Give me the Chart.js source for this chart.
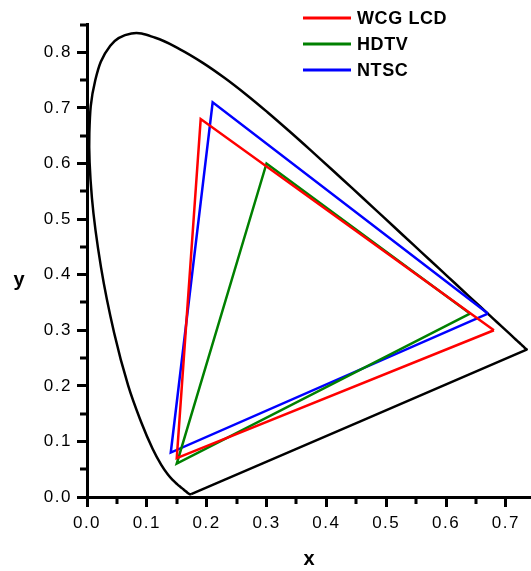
<!DOCTYPE html>
<html>
<head>
<meta charset="utf-8">
<script src="https://cdn.jsdelivr.net/npm/chart.js@4/dist/chart.umd.min.js"></script>
<style>
  html, body { margin: 0; padding: 0; background: #fff; }
</style>
</head>
<body>
<canvas id="myChart" width="531" height="571"></canvas>
<script>
// CIE 1931 spectral locus (380-700 nm), closed by the purple line
const locusX = [
    0.1741, 0.1740, 0.1738, 0.1736, 0.1733, 0.1730, 0.1726, 0.1721, 0.1714, 0.1703,
    0.1689, 0.1669, 0.1644, 0.1611, 0.1566, 0.1510, 0.1440, 0.1355, 0.1241, 0.1096,
    0.0913, 0.0687, 0.0454, 0.0235, 0.0082, 0.0039, 0.0139, 0.0389, 0.0743, 0.1142,
    0.1547, 0.1929, 0.2296, 0.2658, 0.3016, 0.3373, 0.3731, 0.4087, 0.4441, 0.4788,
    0.5125, 0.5448, 0.5752, 0.6029, 0.6270, 0.6482, 0.6658, 0.6801, 0.6915, 0.7006,
    0.7079, 0.7140, 0.7190, 0.7230, 0.7260, 0.7283, 0.7300, 0.7311, 0.7320, 0.7334,
    0.7347, 0.1741
];
const locusY = [
    0.0050, 0.0050, 0.0049, 0.0049, 0.0048, 0.0048, 0.0048, 0.0048, 0.0051, 0.0058,
    0.0069, 0.0086, 0.0109, 0.0138, 0.0177, 0.0227, 0.0297, 0.0399, 0.0578, 0.0868,
    0.1327, 0.2007, 0.2950, 0.4127, 0.5384, 0.6548, 0.7502, 0.8120, 0.8338, 0.8262,
    0.8059, 0.7816, 0.7543, 0.7243, 0.6923, 0.6589, 0.6245, 0.5896, 0.5547, 0.5202,
    0.4866, 0.4544, 0.4242, 0.3965, 0.3725, 0.3514, 0.3340, 0.3197, 0.3083, 0.2993,
    0.2920, 0.2859, 0.2809, 0.2770, 0.2740, 0.2717, 0.2700, 0.2689, 0.2680, 0.2666,
    0.2653, 0.0050
];

// gamut triangles: red, green, blue primaries
const gamutNames = ['WCG LCD', 'HDTV', 'NTSC'];
const gamutX = [
    [0.68, 0.19, 0.15],
    [0.64, 0.30, 0.15],
    [0.67, 0.21, 0.14]
];
const gamutY = [
    [0.30, 0.68, 0.07],
    [0.33, 0.60, 0.06],
    [0.33, 0.71, 0.08]
];
const gamutColors = ['#ff0000', '#008000', '#0000ff'];

const xTicks = [0.0, 0.1, 0.2, 0.3, 0.4, 0.5, 0.6, 0.7];
const yTicks = [0.0, 0.1, 0.2, 0.3, 0.4, 0.5, 0.6, 0.7, 0.8];

const toPoints = (xs, ys) => xs.map((x, i) => ({ x: x, y: ys[i] }));

const datasets = gamutNames.map((name, i) => ({
    label: name,
    data: toPoints(gamutX[i].concat(gamutX[i][0]), gamutY[i].concat(gamutY[i][0])),
    borderColor: gamutColors[i],
    borderWidth: 2.5,
    showLine: true,
    pointRadius: 0,
    tension: 0
}));
datasets.push({
    label: 'locus',
    data: toPoints(locusX, locusY),
    borderColor: '#000',
    borderWidth: 2.5,
    showLine: true,
    pointRadius: 0,
    tension: 0.4
});

// short ticks between the labelled ones
const minorTicks = {
    id: 'minorTicks',
    afterDraw(chart) {
        const ctx = chart.ctx;
        const xs = chart.scales.x, ys = chart.scales.y;
        const area = chart.chartArea;
        ctx.save();
        ctx.strokeStyle = '#000';
        ctx.lineWidth = 3;
        ctx.beginPath();
        for (let v = 0.05; v < xs.max + 0.001; v += 0.1) {
            const px = Math.round(xs.getPixelForValue(v));
            ctx.moveTo(px, area.bottom);
            ctx.lineTo(px, area.bottom + 7);
        }
        for (let v = 0.05; v < ys.max + 0.001; v += 0.1) {
            const py = Math.round(ys.getPixelForValue(v));
            ctx.moveTo(area.left, py);
            ctx.lineTo(area.left - 7, py);
        }
        ctx.stroke();
        ctx.restore();
    }
};

// axis titles and legend in the top right corner
const decorations = {
    id: 'decorations',
    beforeDraw(chart) {
        chart.ctx.letterSpacing = '1.5px';
    },
    afterDraw(chart) {
        const ctx = chart.ctx;
        const area = chart.chartArea;
        ctx.save();
        ctx.letterSpacing = '0px';
        ctx.fillStyle = '#000';
        ctx.font = 'bold 20px "Liberation Sans", Arial, sans-serif';
        ctx.textAlign = 'center';
        ctx.textBaseline = 'middle';
        ctx.fillText('x', (area.left + area.right) / 2, area.bottom + 62);
        ctx.fillText('y', area.left - 68, chart.scales.y.getPixelForValue(0.39));

        ctx.font = 'bold 18px "Liberation Sans", Arial, sans-serif';
        ctx.textAlign = 'left';
        gamutNames.forEach((name, i) => {
            const y = 18 + i * 26;
            ctx.strokeStyle = gamutColors[i];
            ctx.lineWidth = 3;
            ctx.beginPath();
            ctx.moveTo(303, y);
            ctx.lineTo(351, y);
            ctx.stroke();
            ctx.letterSpacing = '0.6px';
            ctx.fillText(name, 357, y + 1);
        });
        ctx.restore();
    }
};

const tickFont = { family: '"Liberation Sans", Arial, sans-serif', size: 17 };

const ctx = document.getElementById('myChart').getContext('2d');
const myChart = new Chart(ctx, {
    type: 'scatter',
    data: { datasets: datasets },
    options: {
        responsive: false,
        animation: false,
        layout: { padding: { top: 24, right: 0, left: 0, bottom: 0 } },
        scales: {
            x: {
                type: 'linear',
                min: 0,
                max: 0.742,
                afterFit: (scale) => { scale.height = 74; },
                afterBuildTicks: (scale) => { scale.ticks = xTicks.map(v => ({ value: v })); },
                ticks: {
                    includeBounds: false,
                    color: '#000',
                    font: tickFont,
                    padding: 6,
                    maxRotation: 0,
                    callback: (v) => Number(v).toFixed(1)
                },
                grid: { drawOnChartArea: false, tickLength: 10, tickWidth: 3, tickColor: '#000' },
                border: { color: '#000', width: 3 }
            },
            y: {
                type: 'linear',
                min: 0,
                max: 0.851,
                afterFit: (scale) => { scale.width = 87; },
                afterBuildTicks: (scale) => { scale.ticks = yTicks.map(v => ({ value: v })); },
                ticks: {
                    includeBounds: false,
                    color: '#000',
                    font: tickFont,
                    padding: 5,
                    callback: (v) => Number(v).toFixed(1)
                },
                grid: { drawOnChartArea: false, tickLength: 10, tickWidth: 3, tickColor: '#000' },
                border: { color: '#000', width: 3 }
            }
        },
        plugins: {
            legend: { display: false },
            tooltip: { enabled: false }
        }
    },
    plugins: [minorTicks, decorations]
});
</script>
</body>
</html>
